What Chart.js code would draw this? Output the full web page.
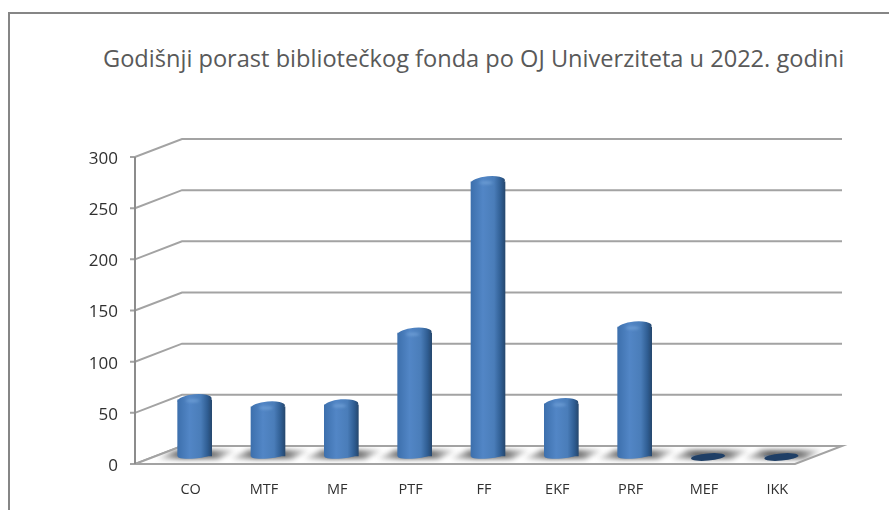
<!DOCTYPE html>
<html>
<head>
<meta charset="utf-8">
<script src="https://cdn.jsdelivr.net/npm/chart.js@4"></script>
<style>
html, body { margin: 0; padding: 0; background: #fff; overflow: hidden; }
#wrap { position: relative; width: 889px; height: 510px; }
#frame { position: absolute; left: 8px; top: 12px; width: 900px; height: 520px; border: 2px solid #868686; box-sizing: border-box; }
#title { position: absolute; left: 103px; top: 42px; font: 23.6px "Open Sans"; color: #595959; white-space: nowrap; }
canvas { position: absolute; left: 0; top: 0; }
</style>
</head>
<body>
<div id="wrap">
  <div id="frame"></div>
  <div id="title">Godišnji porast bibliotečkog fonda po OJ Univerziteta u 2022. godini</div>
  <canvas id="chart" width="889" height="510"></canvas>
</div>
<script>
const categories = ['CO', 'MTF', 'MF', 'PTF', 'FF', 'EKF', 'PRF', 'MEF', 'IKK'];
const values = [55, 48, 50, 120, 268, 51, 126, 0, 0];
const yTicks = [0, 50, 100, 150, 200, 250, 300];

// pomak zadnjeg zida i stubova u odnosu na prednju ravan
const depthX = 47, depthY = -18;
const barDX = 23, barDY = -8;
const barW = 34;

function cylinderFill(ctx, x) {
    const g = ctx.createLinearGradient(x - barW / 2, 0, x + barW / 2, 0);
    g.addColorStop(0, '#3d70ad');
    g.addColorStop(0.35, '#5286c6');
    g.addColorStop(0.68, '#4a7db9');
    g.addColorStop(0.88, '#2f5d92');
    g.addColorStop(1, '#26486f');
    return g;
}

const room3d = {
    id: 'room3d',
    beforeDatasetsDraw(chart) {
        const ctx = chart.ctx, y = chart.scales.y, a = chart.chartArea;
        const y0 = y.getPixelForValue(0);
        ctx.save();
        // zadnji zid i bocne linije
        ctx.strokeStyle = '#a3a3a3';
        ctx.lineWidth = 2;
        yTicks.forEach(v => {
            const py = y.getPixelForValue(v);
            ctx.beginPath();
            ctx.moveTo(a.left - 5, py);
            ctx.lineTo(a.left, py);
            ctx.lineTo(a.left + depthX, py + depthY);
            ctx.lineTo(a.right + depthX, py + depthY);
            ctx.stroke();
        });
        // pod
        ctx.beginPath();
        ctx.moveTo(a.left, y0);
        ctx.lineTo(a.right, y0);
        ctx.lineTo(a.right + depthX, y0 + depthY);
        ctx.lineTo(a.left + depthX, y0 + depthY);
        ctx.closePath();
        ctx.fillStyle = '#fff';
        ctx.fill();
        // sjene stubova na podu
        ctx.save();
        ctx.clip();
        ctx.filter = 'blur(2.5px)';
        chart.getDatasetMeta(0).data.forEach(b => {
            const cx = b.x + barDX;
            const g = ctx.createLinearGradient(cx - 42, 0, cx + 44, 0);
            g.addColorStop(0, 'rgba(70,70,70,0)');
            g.addColorStop(0.35, 'rgba(70,70,70,0.85)');
            g.addColorStop(0.7, 'rgba(70,70,70,0.75)');
            g.addColorStop(1, 'rgba(70,70,70,0)');
            ctx.fillStyle = g;
            ctx.beginPath();
            ctx.moveTo(cx - 38, y0 + barDY + 3);
            ctx.lineTo(cx + 24, y0 + barDY + 3);
            ctx.lineTo(cx + 42, y0 + barDY - 6);
            ctx.lineTo(cx - 20, y0 + barDY - 6);
            ctx.closePath();
            ctx.fill();
        });
        ctx.restore();
        ctx.beginPath();
        ctx.moveTo(a.left, y0);
        ctx.lineTo(a.right, y0);
        ctx.lineTo(a.right + depthX, y0 + depthY);
        ctx.lineTo(a.left + depthX, y0 + depthY);
        ctx.closePath();
        ctx.stroke();
        // prednja osa
        ctx.strokeStyle = '#8c8c8c';
        ctx.beginPath();
        ctx.moveTo(a.left, y.getPixelForValue(300));
        ctx.lineTo(a.left, y0);
        ctx.stroke();
        ctx.restore();
        // stubovi se crtaju pomjereni ka sredini poda
        ctx.save();
        ctx.translate(barDX, barDY);
    },
    afterDatasetsDraw(chart) {
        const ctx = chart.ctx;
        const tilt = -0.09;
        chart.getDatasetMeta(0).data.forEach((b, i) => {
            if (values[i] > 0) {
                // donja i gornja zaobljena ivica
                ctx.fillStyle = cylinderFill(ctx, b.x);
                ctx.beginPath();
                ctx.ellipse(b.x, b.base - 1, barW / 2, 3.5, tilt, 0, 2 * Math.PI);
                ctx.fill();
                ctx.beginPath();
                ctx.ellipse(b.x, b.y, barW / 2, 5.5, tilt, 0, 2 * Math.PI);
                ctx.fill();
                ctx.fillStyle = '#6f9fd6';
                ctx.filter = 'blur(1.5px)';
                ctx.beginPath();
                ctx.ellipse(b.x - 2, b.y + 1, 7, 1.5, 0, 0, 2 * Math.PI);
                ctx.fill();
                ctx.filter = 'none';
            } else {
                ctx.fillStyle = '#1f3f66';
                ctx.beginPath();
                ctx.ellipse(b.x, b.y + 1, barW / 2, 3.6, tilt, 0, 2 * Math.PI);
                ctx.fill();
            }
        });
        ctx.restore();
    }
};

new Chart(document.getElementById('chart'), {
    type: 'bar',
    data: {
        labels: categories,
        datasets: [{
            data: values,
            backgroundColor: c => {
                const x = c.chart.scales.x.getPixelForValue(c.dataIndex);
                return isFinite(x) ? cylinderFill(c.chart.ctx, x) : '#4a7db9';
            },
            barThickness: barW,
            borderWidth: 0,
            clip: false
        }]
    },
    options: {
        responsive: false,
        animation: false,
        layout: { padding: { left: 0, right: 94, top: 157, bottom: 0 } },
        plugins: { legend: { display: false }, title: { display: false }, tooltip: { enabled: false } },
        scales: {
            x: {
                afterFit(axis) { axis.height = 46; },
                grid: { display: false, drawTicks: false },
                border: { display: false },
                ticks: { color: '#303030', font: { family: 'Open Sans', size: 14.5 }, padding: 17, labelOffset: 19, maxRotation: 0, autoSkip: false }
            },
            y: {
                min: 0,
                max: 300,
                afterFit(axis) { axis.width = 135; },
                afterBuildTicks(axis) { axis.ticks = yTicks.map(v => ({ value: v })); },
                grid: { display: false },
                border: { display: false },
                ticks: { color: '#303030', font: { family: 'Open Sans', size: 17 }, padding: 9, labelOffset: 2 }
            }
        }
    },
    plugins: [room3d]
});
</script>
</body>
</html>
